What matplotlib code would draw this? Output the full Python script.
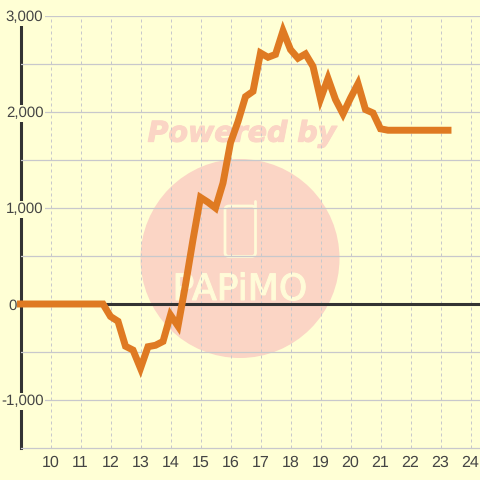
import matplotlib
matplotlib.use("Agg")
import matplotlib.pyplot as plt
import matplotlib.patheffects as pe
from matplotlib.patches import Circle, FancyBboxPatch
from matplotlib.ticker import FuncFormatter
from matplotlib.transforms import ScaledTranslation

hours = [9 + 0.25 * i for i in range(58)]
values = [0, 0, 0, 0, 0, 0, 0, 0, 0, 0, 0, 0,
          -130, -180, -440, -480, -670, -445, -430, -390, -115, -230,
          200, 670, 1110, 1060, 1000, 1260, 1680, 1900, 2160, 2215,
          2615, 2570, 2600, 2845, 2650, 2560, 2605, 2475, 2135, 2350,
          2130, 1980, 2145, 2295, 2025, 1990, 1825, 1810, 1810, 1810,
          1810, 1810, 1810, 1810, 1810, 1810]
xticks = list(range(10, 25))
yticks = [-1000, 0, 1000, 2000, 3000]
yminor = [-500, 500, 1500, 2500]

BG = "#ffffd5"
GRID = "#c8c8cc"
DARK = "#333333"
TEXT = "#444444"
PALE = "#fffbd8"
plt.rcParams["font.family"] = "Liberation Sans"
plt.rcParams["text.hinting"] = "no_hinting"

fig = plt.figure(figsize=(4.8, 4.8), dpi=100, facecolor=BG)
ax = fig.add_axes([20.5 / 480, 32 / 480, 459.5 / 480, 432 / 480], facecolor=BG)
ax.set_xlim(9, 9 + 459.5 / 30)
ax.set_ylim(-1500, 3000)

# watermark in figure pixel coordinates
ov = fig.add_axes([0, 0, 1, 1], facecolor="none", zorder=0)
ax.set_zorder(1)
ax.patch.set_visible(False)
ov.set_xlim(0, 480); ov.set_ylim(480, 0); ov.axis("off")
ov.add_patch(Circle((240, 258.5), 99.5, fc="#fbd5c5", ec="none"))
ov.add_patch(FancyBboxPatch((225, 206), 30.5, 50.5, boxstyle="round,pad=0,rounding_size=4",
                            fc="none", ec=PALE, lw=2.0))
ov.plot([254.5, 254.5], [201, 208], color=PALE, lw=2.0, solid_capstyle="round")
ov.text(242, 134, "Powered by", fontsize=20.5, fontweight="bold", fontstyle="italic",
        color="#fbd5c5", ha="center", va="center", family="DejaVu Sans",
        path_effects=[pe.withStroke(linewidth=0.8, foreground="#fbd5c5")])
ov.text(240, 290, "PAPiMO", fontsize=26, fontweight="normal", color=PALE,
        ha="center", va="center", family="DejaVu Sans",
        path_effects=[pe.withStroke(linewidth=0.8, foreground=PALE)])

for s in ["top", "right"]:
    ax.spines[s].set_visible(False)
ax.spines["bottom"].set_color(GRID)
ax.spines["bottom"].set_linewidth(0.9)
ax.spines["left"].set_color(DARK)
ax.spines["left"].set_linewidth(2.2)
ax.spines["left"].set_zorder(2)

ax.set_axisbelow(False)
ax.set_xticks(xticks)
ax.set_yticks(yticks)
ax.set_yticks(yminor, minor=True)
ax.yaxis.set_major_formatter(FuncFormatter(lambda v, _: f"{int(v):,}"))
ax.grid(axis="x", color=GRID, lw=0.72, ls=(0, (3, 3)))
ax.grid(axis="y", which="both", color=GRID, lw=0.9)
ax.tick_params(axis="both", which="both", length=0)
ax.tick_params(axis="x", labelsize=11.5, labelcolor=TEXT, pad=5)
ax.tick_params(axis="y", labelsize=10.8, labelcolor=TEXT, pad=-16.5)
fig.canvas.draw()
for t in ax.get_yticklabels():
    t.set_bbox(dict(fc=BG, ec="none", pad=1.2))
    if t.get_text() == "0":
        t.set_transform(t.get_transform() + ScaledTranslation(-27 / 100, 0, fig.dpi_scale_trans))

ax.axhline(0, color=DARK, lw=2.2, zorder=4)
ax.plot(hours, values, color="#df7a22", lw=5.0, solid_joinstyle="miter",
        solid_capstyle="projecting", zorder=5, clip_on=False)

fig.savefig("out.png", dpi=100, facecolor=BG)
